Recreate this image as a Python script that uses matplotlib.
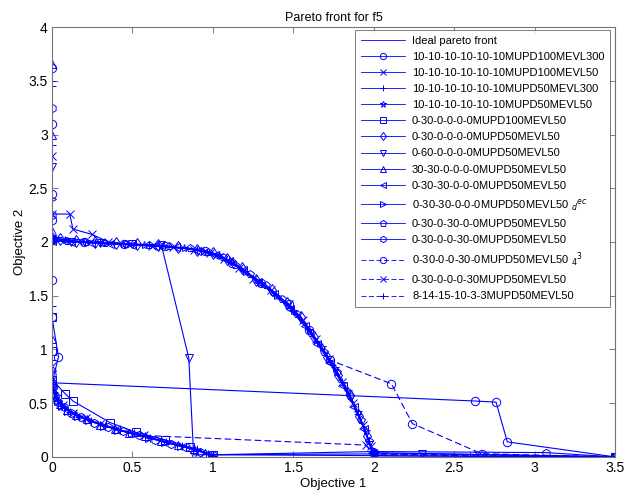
import numpy as np
import matplotlib.pyplot as plt

plt.rcParams['font.family'] = ['Liberation Sans', 'DejaVu Sans']

# ideal front
ideal_x = [0, 0, 0, 0.005, 0.012, 0.025, 0.045, 0.07, 0.10, 0.14, 0.19, 0.25, 0.31, 0.38, 0.45, 0.52, 0.60, 0.68, 0.76, 0.84, 0.92, 1.0]
ideal_y = [3.8, 2.0, 0.70, 0.64, 0.59, 0.54, 0.50, 0.46, 0.43, 0.40, 0.36, 0.33, 0.30, 0.27, 0.24, 0.21, 0.18, 0.15, 0.12, 0.09, 0.05, 0.0]

# runs
s1_x = [0, 0, 0, 0, 0, 0, 0.04, 0.0, 2.63, 2.76, 2.83, 3.5]
s1_y = [3.62, 3.1, 2.45, 2.2, 1.65, 1.3, 0.93, 0.69, 0.52, 0.51, 0.14, 0.0]

s2_x = [0, 0.11, 0.13, 0.25, 0.35, 0.48, 0.62, 0.75, 0.88, 0.98, 1.07, 1.16, 1.25, 1.36, 1.47, 1.56, 1.64, 1.72, 1.80, 1.87, 1.93, 1.98, 2.0, 3.5]
s2_y = [2.26, 2.26, 2.12, 2.07, 2.0, 1.98, 1.96, 1.95, 1.93, 1.90, 1.84, 1.76, 1.66, 1.55, 1.42, 1.27, 1.10, 0.91, 0.70, 0.50, 0.30, 0.10, 0.01, 0.0]

s3_x = [0, 0, 0, 0, 0, 0.003, 0.01, 0.03, 0.06, 0.11, 0.17, 0.24, 0.33, 0.42, 0.51, 0.61, 0.71, 0.81, 0.90, 0.97, 1.0]
s3_y = [3.45, 2.9, 2.0, 1.4, 0.9, 0.68, 0.60, 0.53, 0.47, 0.42, 0.37, 0.33, 0.29, 0.25, 0.22, 0.18, 0.14, 0.10, 0.07, 0.03, 0.01]

s4_x = [0, 0.08, 0.19, 0.31, 0.44, 0.57, 0.69, 0.82, 0.94, 1.04, 1.12, 1.20, 1.29, 1.39, 1.50, 1.60, 1.68, 1.76, 1.84, 1.90, 1.95, 1.99]
s4_y = [2.03, 2.02, 2.0, 1.99, 1.98, 1.97, 1.96, 1.94, 1.92, 1.88, 1.81, 1.72, 1.62, 1.50, 1.36, 1.18, 1.02, 0.83, 0.61, 0.42, 0.24, 0.05]

s5_x = [0, 0, 0, 0.08, 0.13, 0.36, 0.52, 0.70, 0.86, 1.0, 3.5]
s5_y = [1.3, 0.99, 0.72, 0.59, 0.52, 0.32, 0.23, 0.16, 0.09, 0.02, 0.0]

s6_x = [0, 0.05, 0.15, 0.27, 0.40, 0.53, 0.66, 0.78, 0.90, 1.0, 1.09, 1.18, 1.27, 1.37, 1.46, 1.55, 1.63, 1.71, 1.78, 1.85, 1.91, 1.96, 2.0]
s6_y = [2.04, 2.03, 2.01, 2.0, 1.99, 1.98, 1.97, 1.95, 1.93, 1.90, 1.84, 1.76, 1.65, 1.55, 1.43, 1.30, 1.12, 0.93, 0.76, 0.58, 0.38, 0.19, 0.02]

s7_x = [0, 0, 0.12, 0.30, 0.50, 0.68, 0.85, 0.88, 2.3, 3.5]
s7_y = [2.7, 2.02, 2.0, 1.99, 1.98, 1.97, 0.92, 0.02, 0.03, 0.0]

s8_x = [0, 0, 0, 0, 0.002, 0.008, 0.02, 0.05, 0.09, 0.15, 0.22, 0.30, 0.39, 0.48, 0.58, 0.68, 0.78, 0.88, 0.95, 1.0]
s8_y = [3.66, 3.0, 2.1, 1.1, 0.72, 0.63, 0.56, 0.49, 0.44, 0.39, 0.35, 0.30, 0.26, 0.22, 0.19, 0.15, 0.11, 0.07, 0.04, 0.01]

s9_x = [0, 0.12, 0.24, 0.36, 0.50, 0.64, 0.77, 0.90, 1.01, 1.10, 1.19, 1.28, 1.38, 1.48, 1.57, 1.65, 1.73, 1.81, 1.88, 1.94, 1.99]
s9_y = [2.01, 2.0, 1.99, 1.98, 1.97, 1.96, 1.95, 1.92, 1.88, 1.82, 1.74, 1.63, 1.52, 1.38, 1.22, 1.05, 0.87, 0.66, 0.46, 0.26, 0.04]

s10_x = [0, 0, 0.004, 0.015, 0.035, 0.065, 0.10, 0.16, 0.23, 0.32, 0.41, 0.50, 0.60, 0.70, 0.80, 0.90, 0.98]
s10_y = [2.4, 0.8, 0.66, 0.58, 0.52, 0.47, 0.43, 0.38, 0.34, 0.29, 0.25, 0.22, 0.18, 0.14, 0.10, 0.06, 0.02]

s11_x = [0, 0.09, 0.21, 0.33, 0.46, 0.60, 0.73, 0.86, 0.97, 1.06, 1.14, 1.23, 1.33, 1.43, 1.52, 1.61, 1.69, 1.77, 1.85, 1.92, 1.97, 2.0, 3.5]
s11_y = [2.02, 2.01, 2.0, 1.99, 1.98, 1.97, 1.96, 1.94, 1.91, 1.86, 1.79, 1.70, 1.60, 1.47, 1.33, 1.15, 0.98, 0.79, 0.57, 0.34, 0.15, 0.04, 0.0]

s12_x = [0, 0, 0, 0.006, 0.018, 0.04, 0.075, 0.12, 0.18, 0.26, 0.35, 0.44, 0.54, 0.64, 0.74, 0.83, 0.92, 1.0, 2.0, 3.07, 3.5]
s12_y = [3.25, 2.25, 0.76, 0.65, 0.57, 0.51, 0.46, 0.41, 0.37, 0.32, 0.28, 0.24, 0.20, 0.16, 0.12, 0.09, 0.05, 0.02, 0.05, 0.04, 0.0]

s13_x = [0, 0.2, 0.45, 0.7, 0.95, 1.12, 1.3, 1.47, 1.6, 1.73, 2.11, 2.24, 2.67, 3.5]
s13_y = [2.02, 2.0, 1.98, 1.96, 1.92, 1.80, 1.62, 1.42, 1.18, 0.90, 0.68, 0.31, 0.03, 0.0]

s14_x = [0, 0, 0.01, 0.03, 0.07, 0.13, 0.21, 0.30, 0.40, 0.57, 1.95, 2.0, 2.65, 3.5]
s14_y = [2.8, 0.85, 0.62, 0.55, 0.48, 0.41, 0.36, 0.31, 0.26, 0.20, 0.11, 0.02, 0.02, 0.0]

s15_x = [0, 0, 0.3, 0.6, 0.9, 1.1, 1.3, 1.5, 1.65, 1.8, 1.9, 1.97, 2.0, 2.6, 3.5]
s15_y = [3.5, 2.05, 2.0, 1.97, 1.93, 1.83, 1.62, 1.36, 1.07, 0.70, 0.40, 0.15, 0.03, 0.01, 0.0]

labels = ['10-10-10-10-10-10MUPD100MEVL300',
          '10-10-10-10-10-10MUPD100MEVL50',
          '10-10-10-10-10-10MUPD50MEVL300',
          '10-10-10-10-10-10MUPD50MEVL50',
          '0-30-0-0-0-0MUPD100MEVL50',
          '0-30-0-0-0-0MUPD50MEVL50',
          '0-60-0-0-0-0MUPD50MEVL50',
          '30-30-0-0-0-0MUPD50MEVL50',
          '0-30-30-0-0-0MUPD50MEVL50',
          r'0-30-30-0-0-0MUPD50MEVL50 $_d{}^{ec}$',
          '0-30-0-30-0-0MUPD50MEVL50',
          '0-30-0-0-30-0MUPD50MEVL50',
          r'0-30-0-0-30-0MUPD50MEVL50 $_4{}^3$',
          '0-30-0-0-0-30MUPD50MEVL50',
          '8-14-15-10-3-3MUPD50MEVL50']
series = [(s1_x, s1_y), (s2_x, s2_y), (s3_x, s3_y), (s4_x, s4_y), (s5_x, s5_y),
          (s6_x, s6_y), (s7_x, s7_y), (s8_x, s8_y), (s9_x, s9_y), (s10_x, s10_y),
          (s11_x, s11_y), (s12_x, s12_y), (s13_x, s13_y), (s14_x, s14_y), (s15_x, s15_y)]
markers = ['o', 'x', '+', '*', 's', 'd', 'v', '^', '<', '>', 'p', 'h', 'o', 'x', '+']
styles = ['-'] * 12 + ['--'] * 3

fig = plt.figure(figsize=(6.27, 5.01), dpi=100)
ax = fig.add_axes([0.083, 0.088, 0.898, 0.858])

ax.plot(ideal_x, ideal_y, color='b', lw=0.8, label='Ideal pareto front')
for (xs, ys), m, ls, lab in zip(series, markers, styles, labels):
    line, = ax.plot(xs, ys, color='b', ls=ls, lw=0.8, marker=m, ms=6, mfc='none', mec='b', mew=0.7, label=lab)
    if ls == '--':
        line.set_dashes((6, 3))

ax.set_xlim(0, 3.5)
ax.set_ylim(0, 4)
ax.set_xticks(np.arange(0, 3.51, 0.5))
ax.set_yticks(np.arange(0, 4.01, 0.5))
ax.set_xticklabels(['0', '0.5', '1', '1.5', '2', '2.5', '3', '3.5'])
ax.set_yticklabels(['0', '0.5', '1', '1.5', '2', '2.5', '3', '3.5', '4'])
ax.tick_params(direction='in', top=True, right=True, length=4, width=0.6, color='0.4', labelsize=10, pad=3)
for sp in ax.spines.values():
    sp.set_color('0.45')
    sp.set_linewidth(0.8)

ax.set_title('Pareto front for f5', fontsize=9, pad=4)
ax.set_xlabel('Objective 1', fontsize=9.5, labelpad=2)
ax.set_ylabel('Objective 2', fontsize=9.5, labelpad=2)

leg = ax.legend(loc='upper right', bbox_to_anchor=(0.973, 0.940), bbox_transform=fig.transFigure,
                fontsize=8, frameon=True, fancybox=False, borderaxespad=0, markerscale=0.75,
                handlelength=4.0, labelspacing=0.55, borderpad=0.5, handletextpad=0.6)
leg.get_frame().set_edgecolor('0.35')
leg.get_frame().set_linewidth(0.7)
for h in leg.get_lines():
    h.set_linewidth(0.6)

plt.savefig('out.png', dpi=100)
